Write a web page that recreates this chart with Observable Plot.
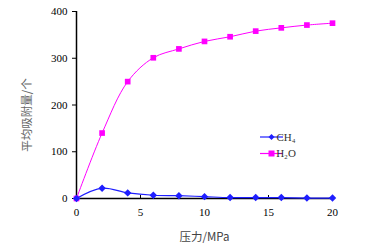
<!DOCTYPE html>
<html><head><meta charset="utf-8">
<script src="https://cdn.jsdelivr.net/npm/d3@7"></script>
<script src="https://cdn.jsdelivr.net/npm/@observablehq/plot@0.6"></script>
<style>body{margin:0;background:#fff}</style>
</head><body><div id="chart"></div>
<script>
const pressure = [0, 2, 4, 6, 8, 10, 12, 14, 16, 18, 20];
const ch4 = [0, 22, 12, 7, 6, 4, 2, 2, 2, 1, 1];
const h2o = [0, 140, 250, 301, 320, 336, 346, 358, 365, 371, 375];
const xTicks = [0, 5, 10, 15, 20];
const yTicks = [0, 100, 200, 300, 400];
const seriesNames = ["CH\u2084", "H\u2082O"];
const colors = ["#1f1fff", "#ff00ff"];

const ch4Data = pressure.map((p, i) => ({p, v: ch4[i]}));
const h2oData = pressure.map((p, i) => ({p, v: h2o[i]}));

const serif = "'Liberation Serif','Times New Roman',serif";
const cjk = "'Noto Sans CJK SC',sans-serif";
const plot = Plot.plot({
  width: 387, height: 246,
  marginLeft: 76, marginRight: 55, marginTop: 11, marginBottom: 48,
  style: {fontFamily: serif, fontSize: "11px", color: "#000", background: "#fff"},
  x: {domain: [0, 20]},
  y: {domain: [0, 400]},
  marks: [
    Plot.axisY({ticks: yTicks, tickSize: 4, tickPadding: 5, label: null, fontSize: 11}),
    Plot.axisX({ticks: xTicks, tickSize: 0, tickPadding: 10, label: null, fontSize: 11}),
    Plot.ruleX(xTicks.slice(1, -1), {x: d => d, y1: 0, y2: 0, insetTop: -3, stroke: "#000"}),
    Plot.ruleX([0], {y1: 0, y2: 400, stroke: "#000", strokeWidth: 1.5}),
    Plot.ruleY([0], {x1: 0, x2: 20, stroke: "#000", strokeWidth: 1.5}),
    Plot.line(h2oData, {x: "p", y: "v", stroke: colors[1], strokeWidth: 1, curve: "catmull-rom"}),
    Plot.dot(h2oData, {x: "p", y: "v", symbol: "square", fill: colors[1], r: 3.2}),
    Plot.line(ch4Data, {x: "p", y: "v", stroke: colors[0], strokeWidth: 1.2, curve: "catmull-rom"}),
    Plot.dot(ch4Data, {x: "p", y: "v", symbol: "diamond2", fill: colors[0], stroke: colors[0], r: 2.4}),
    Plot.text(["压力/MPa"], {frameAnchor: "bottom", dy: 42, fontFamily: cjk, fontSize: 11.5, fill: "#444"}),
    Plot.text(["平均吸附量/个"], {frameAnchor: "left", textAnchor: "middle", dx: -49, dy: 10, rotate: -90, fontFamily: cjk, fontSize: 11.5, fill: "#666"})
  ]
});
document.getElementById("chart").append(plot);

// legend inside the plot area
const svg = d3.select(plot);
const lg = svg.append("g").attr("font-family", serif).attr("font-size", 11);
seriesNames.forEach((name, i) => {
  const y = 137 + i * 16.5;
  lg.append("line").attr("x1", 260).attr("x2", 283).attr("y1", y).attr("y2", y)
    .attr("stroke", colors[i]).attr("stroke-width", 1.2);
  if (i === 0) {
    lg.append("path").attr("d", `M271.5,${y-3}L274.5,${y}L271.5,${y+3}L268.5,${y}Z`).attr("fill", colors[i]);
  } else {
    lg.append("rect").attr("x", 268.5).attr("y", y - 3).attr("width", 6).attr("height", 6).attr("fill", colors[i]);
  }
  lg.append("text").attr("x", 286).attr("y", y).attr("dy", "0.35em").attr("fill", "#333").text(name);
});
</script>
</body></html>
